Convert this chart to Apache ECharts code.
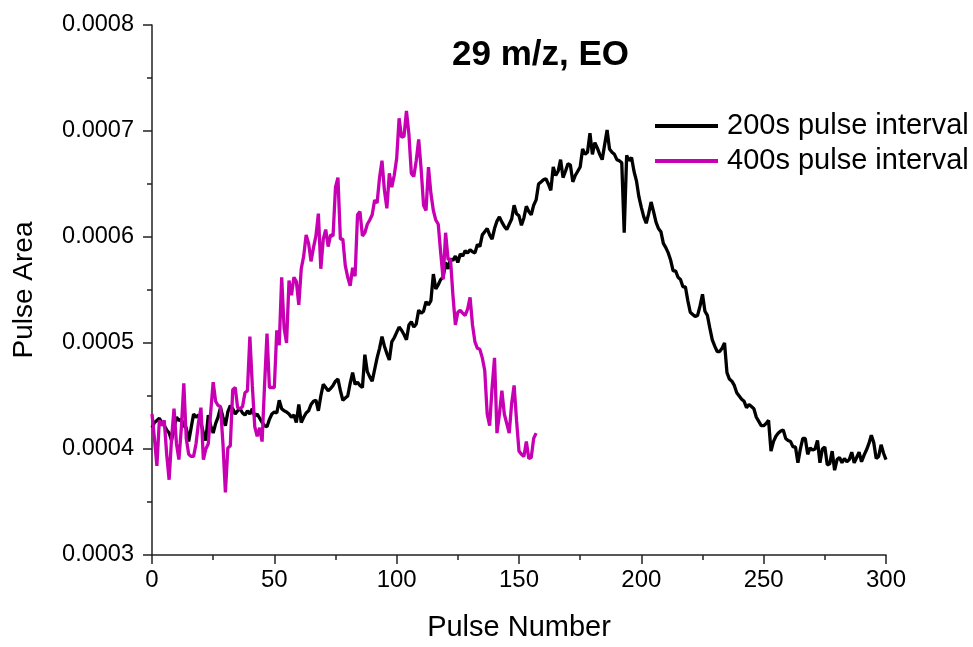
<!DOCTYPE html>
<html>
<head>
<meta charset="utf-8">
<title>29 m/z, EO</title>
<script src="https://cdn.jsdelivr.net/npm/echarts@6/dist/echarts.min.js"></script>
<style>
  html, body { margin: 0; padding: 0; background: #fff; overflow: hidden; }
  #chart { position: fixed; left: 0; top: 0; width: 100vw; height: 100vh; }
</style>
</head>
<body>
<div id="chart"></div>
<script>
// pulse area per pulse (pulse number = index)
const area200s = [
  0.000420, 0.000425, 0.000427, 0.000429, 0.000425, 0.000422, 0.000418, 0.000415, 0.000408, 0.000420,
  0.000430, 0.000427, 0.000428, 0.000422, 0.000420, 0.000407, 0.000420, 0.000433, 0.000430, 0.000432,
  0.000425, 0.000415, 0.000408, 0.000432, 0.000422, 0.000415, 0.000424, 0.000430, 0.000439, 0.000430,
  0.000422, 0.000435, 0.000441, 0.000438, 0.000433, 0.000436, 0.000438, 0.000434, 0.000432, 0.000436,
  0.000433, 0.000438, 0.000431, 0.000433, 0.000429, 0.000425, 0.000422, 0.000421, 0.000428, 0.000433,
  0.000435, 0.000434, 0.000446, 0.000438, 0.000436, 0.000435, 0.000433, 0.000430, 0.000432, 0.000425,
  0.000442, 0.000425, 0.000430, 0.000434, 0.000436, 0.000442, 0.000445, 0.000446, 0.000436, 0.000450,
  0.000461, 0.000458, 0.000455, 0.000457, 0.000460, 0.000464, 0.000466, 0.000455, 0.000446, 0.000448,
  0.000450, 0.000462, 0.000472, 0.000461, 0.000463, 0.000460, 0.000458, 0.000489, 0.000473, 0.000468,
  0.000464, 0.000475, 0.000486, 0.000495, 0.000506, 0.000497, 0.000490, 0.000484, 0.000501, 0.000505,
  0.000510, 0.000515, 0.000512, 0.000508, 0.000503, 0.000517, 0.000520, 0.000515, 0.000518, 0.000531,
  0.000528, 0.000530, 0.000539, 0.000536, 0.000540, 0.000565, 0.000551, 0.000555, 0.000560, 0.000562,
  0.000576, 0.000570, 0.000579, 0.000578, 0.000582, 0.000576, 0.000584, 0.000582, 0.000587, 0.000585,
  0.000588, 0.000586, 0.000585, 0.000593, 0.000591, 0.000602, 0.000605, 0.000608, 0.000602, 0.000598,
  0.000608, 0.000615, 0.000619, 0.000614, 0.000610, 0.000607, 0.000612, 0.000617, 0.000630, 0.000622,
  0.000620, 0.000611, 0.000618, 0.000629, 0.000624, 0.000621, 0.000630, 0.000635, 0.000650, 0.000652,
  0.000654, 0.000655, 0.000650, 0.000644, 0.000666, 0.000658, 0.000662, 0.000673, 0.000656, 0.000662,
  0.000669, 0.000668, 0.000652, 0.000658, 0.000662, 0.000666, 0.000683, 0.000678, 0.000680, 0.000698,
  0.000678, 0.000689, 0.000684, 0.000678, 0.000673, 0.000687, 0.000701, 0.000683, 0.000680, 0.000678,
  0.000673, 0.000672, 0.000670, 0.000604, 0.000677, 0.000672, 0.000675, 0.000662, 0.000653, 0.000638,
  0.000628, 0.000619, 0.000613, 0.000622, 0.000633, 0.000624, 0.000614, 0.000608, 0.000605, 0.000594,
  0.000590, 0.000585, 0.000578, 0.000568, 0.000568, 0.000562, 0.000560, 0.000553, 0.000553, 0.000540,
  0.000529, 0.000527, 0.000525, 0.000526, 0.000535, 0.000546, 0.000530, 0.000526, 0.000514, 0.000503,
  0.000497, 0.000492, 0.000492, 0.000495, 0.000500, 0.000472, 0.000466, 0.000464, 0.000460, 0.000453,
  0.000450, 0.000447, 0.000445, 0.000439, 0.000442, 0.000440, 0.000438, 0.000430, 0.000426, 0.000422,
  0.000422, 0.000424, 0.000427, 0.000398, 0.000407, 0.000412, 0.000415, 0.000417, 0.000418, 0.000410,
  0.000408, 0.000407, 0.000402, 0.000402, 0.000387, 0.000400, 0.000410, 0.000410, 0.000395, 0.000401,
  0.000399, 0.000400, 0.000408, 0.000387, 0.000400, 0.000402, 0.000385, 0.000386, 0.000398, 0.000380,
  0.000390, 0.000392, 0.000387, 0.000391, 0.000388, 0.000390, 0.000397, 0.000387, 0.000392, 0.000397,
  0.000388, 0.000394, 0.000399, 0.000405, 0.000413, 0.000406, 0.000391, 0.000393, 0.000404, 0.000396,
  0.000390
];

const area400s = [
  0.000433, 0.000410, 0.000384, 0.000427, 0.000422, 0.000427, 0.000395, 0.000371, 0.000410, 0.000438,
  0.000405, 0.000390, 0.000420, 0.000462, 0.000410, 0.000395, 0.000393, 0.000393, 0.000405, 0.000425,
  0.000439, 0.000390, 0.000400, 0.000405, 0.000435, 0.000463, 0.000445, 0.000441, 0.000440, 0.000405,
  0.000359, 0.000401, 0.000403, 0.000456, 0.000458, 0.000439, 0.000438, 0.000440, 0.000453, 0.000455,
  0.000506, 0.000460, 0.000421, 0.000412, 0.000420, 0.000407, 0.000460, 0.000509, 0.000458, 0.000458,
  0.000458, 0.000512, 0.000498, 0.000562, 0.000514, 0.000500, 0.000559, 0.000545, 0.000562, 0.000558,
  0.000536, 0.000570, 0.000582, 0.000602, 0.000594, 0.000577, 0.000590, 0.000601, 0.000622, 0.000570,
  0.000598, 0.000607, 0.000591, 0.000602, 0.000601, 0.000647, 0.000656, 0.000598, 0.000598, 0.000573,
  0.000562, 0.000554, 0.000571, 0.000563, 0.000621, 0.000624, 0.000601, 0.000604, 0.000612, 0.000616,
  0.000621, 0.000635, 0.000632, 0.000656, 0.000672, 0.000644, 0.000627, 0.000660, 0.000647, 0.000658,
  0.000674, 0.000712, 0.000694, 0.000695, 0.000719, 0.000697, 0.000660, 0.000657, 0.000672, 0.000692,
  0.000664, 0.000630, 0.000625, 0.000666, 0.000641, 0.000625, 0.000616, 0.000612, 0.000585, 0.000560,
  0.000604, 0.000579, 0.000579, 0.000545, 0.000517, 0.000529, 0.000531, 0.000528, 0.000526, 0.000532,
  0.000543, 0.000517, 0.000501, 0.000495, 0.000494, 0.000486, 0.000474, 0.000433, 0.000422, 0.000458,
  0.000486, 0.000415, 0.000433, 0.000455, 0.000433, 0.000424, 0.000415, 0.000443, 0.000460, 0.000427,
  0.000398, 0.000395, 0.000393, 0.000407, 0.000391, 0.000392, 0.000410, 0.000415
];

const seriesNames = ['200s pulse interval', '400s pulse interval'];
const seriesColors = ['#000000', '#C800B4'];
const xTicks = [0, 50, 100, 150, 200, 250, 300];
const yTicks = [0.0003, 0.0004, 0.0005, 0.0006, 0.0007, 0.0008];

const FONT = '"Liberation Sans", Arial, sans-serif';

const chart = echarts.init(document.getElementById('chart'));

const toPoints = arr => arr.map((v, i) => [i, v]);

const axisCommon = {
  axisLine: { show: true, lineStyle: { color: '#222', width: 1.5 } },
  axisTick: { show: true, inside: false, length: 9, lineStyle: { color: '#222', width: 1.5 } },
  minorTick: { show: true, splitNumber: 2, length: 5, lineStyle: { color: '#222', width: 1.5 } },
  splitLine: { show: false }
};

chart.setOption({
  animation: false,
  backgroundColor: '#fff',
  title: {
    text: '29 m/z, EO',
    left: 447,
    top: 33,
    textStyle: { fontFamily: FONT, fontSize: 35, fontWeight: 'bold', color: '#000' }
  },
  legend: {
    data: seriesNames,
    orient: 'vertical',
    left: 650,
    top: 106,
    icon: 'rect',
    itemWidth: 63,
    itemHeight: 4,
    itemGap: 5,
    textStyle: { fontFamily: FONT, fontSize: 29, lineHeight: 30, color: '#000', padding: [0, 0, 0, 4] }
  },
  grid: { left: 152, width: 734, top: 25, height: 538, containLabel: false },
  xAxis: Object.assign({}, axisCommon, {
    type: 'value',
    min: xTicks[0],
    max: xTicks[xTicks.length - 1],
    interval: 50,
    name: 'Pulse Number',
    nameLocation: 'middle',
    nameGap: 58,
    nameTextStyle: { fontFamily: FONT, fontSize: 29, color: '#000' },
    axisLabel: { fontFamily: FONT, fontSize: 24, color: '#000', margin: 13 }
  }),
  yAxis: Object.assign({}, axisCommon, {
    type: 'value',
    min: yTicks[0],
    max: yTicks[yTicks.length - 1],
    interval: 0.0001,
    name: 'Pulse Area',
    nameLocation: 'middle',
    nameGap: 114,
    nameTextStyle: { fontFamily: FONT, fontSize: 28, color: '#000' },
    axisLabel: {
      fontFamily: FONT, fontSize: 23.5, color: '#000', margin: 18,
      formatter: v => v.toFixed(4)
    }
  }),
  series: [
    {
      name: seriesNames[0],
      type: 'line',
      data: toPoints(area200s),
      showSymbol: false,
      color: seriesColors[0],
      lineStyle: { width: 3.3, color: seriesColors[0] }
    },
    {
      name: seriesNames[1],
      type: 'line',
      data: toPoints(area400s),
      showSymbol: false,
      color: seriesColors[1],
      lineStyle: { width: 3.3, color: seriesColors[1] }
    }
  ]
});
</script>
</body>
</html>
